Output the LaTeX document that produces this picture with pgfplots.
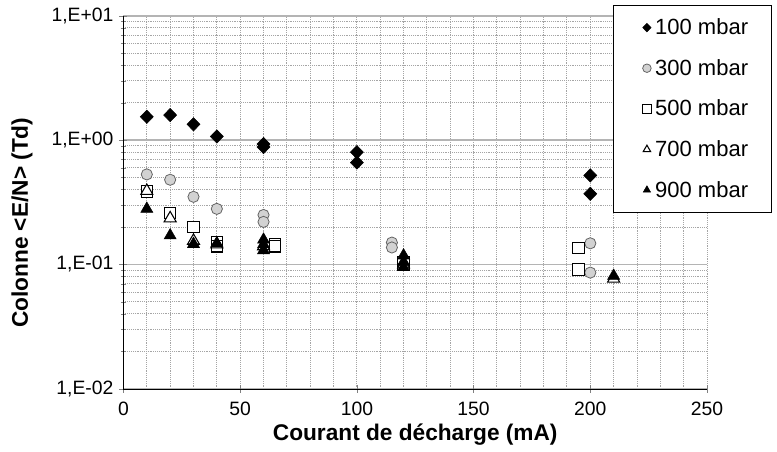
\documentclass[border=0pt]{standalone}
\usepackage{fontspec}
\setmainfont{Liberation Sans}
\usepackage{pgfplots}
\pgfplotsset{compat=1.18}

\definecolor{gridmaj}{RGB}{180,180,180}
\definecolor{gridmin}{RGB}{165,165,165}
\definecolor{circfill}{RGB}{210,210,210}
\definecolor{circdraw}{RGB}{100,100,100}

\begin{document}
\begin{tikzpicture}
\path[use as bounding box] (-92.6pt,-47.25pt) rectangle (490.1pt,291.6pt);
\begin{axis}[
    ,scale only axis
    ,width           = 437.6pt
    ,height          = 279.8pt
    ,ymode           = log
    ,xmin = 0, xmax = 250
    ,ymin = 0.01, ymax = 10
    ,xtick           = {0,50,...,250}
    ,minor x tick num = 4
    ,ytick           = {0.01,0.1,1,10}
    ,yticklabels     = {{1,E-02},{1,E-01},{1,E+00},{1,E+01}}
    ,axis x line*    = bottom
    ,axis y line*    = left
    ,hide obscured x ticks = false
    ,hide obscured y ticks = false
    ,tick align      = center
    ,major tick length = 6pt
    ,minor tick length = 4pt
    ,minor x tick style = {draw=none}
    ,grid            = both
    ,major x grid style = {gridmin, densely dotted, line width=0.7pt}
    ,minor x grid style = {gridmin, densely dotted, line width=0.7pt}
    ,major y grid style = {gridmaj, line width=1.2pt}
    ,minor y grid style = {gridmin, densely dotted, line width=0.7pt}
    ,/pgf/number format/assume math mode=true
    ,tick label style = {font=\fontsize{14.5}{16}\selectfont}
    ,xticklabel style = {yshift=-3pt}
    ,yticklabel style = {xshift=-1pt}
    ,xlabel          = {Courant de décharge (mA)}
    ,ylabel          = {Colonne <E/N> (Td)}
    ,every axis x label/.style = {at={(rel axis cs:0.5,0)}, anchor=center, yshift=-34.5pt, font=\fontsize{17}{19}\selectfont\bfseries}
    ,every axis y label/.style = {at={(rel axis cs:0,0.445)}, xshift=-76pt, rotate=90, anchor=center, font=\fontsize{17}{19}\selectfont\bfseries}
    ,legend style    = {at={(rel axis cs:0.839,1.0287)}, anchor=north west, draw=black, fill=white,
                        font=\fontsize{16.5}{18}\selectfont, row sep=13pt, inner xsep=15pt, inner ysep=8pt}
    ,legend cell align = left
    ,legend image code/.code = {\path (0pt,0pt) (14pt,0pt); \draw[#1, mark size=3.2pt] plot coordinates {(10pt,0pt)};}
    ]
    \addplot [only marks, mark=diamond*, mark size=5pt, mark options={fill=black, draw=black, xscale=1.3}]
        coordinates {(10,1.54) (20,1.59) (30,1.34) (40,1.07) (60,0.93) (60,0.88) (100,0.80) (100,0.66) (200,0.52) (200,0.37)};
    \addlegendentry{100 mbar}
    \addplot [only marks, mark=*, mark size=4.2pt, mark options={fill=circfill, draw=circdraw, line width=0.6pt}]
        coordinates {(10,0.53) (20,0.48) (30,0.35) (40,0.28) (60,0.25) (60,0.22) (115,0.15) (115,0.137) (200,0.148) (200,0.086)};
    \addlegendentry{300 mbar}
    \addplot [only marks, mark=square*, mark size=4.3pt, mark options={fill=white, draw=black, line width=0.8pt}]
        coordinates {(10,0.385) (20,0.26) (30,0.2) (40,0.152) (40,0.14) (65,0.145) (65,0.14) (120,0.105) (120,0.1) (195,0.136) (195,0.091)};
    \addlegendentry{500 mbar}
    \addplot [only marks, mark=triangle*, mark size=5.2pt, mark options={fill=white, draw=black, line width=0.8pt}]
        coordinates {(10,0.39) (20,0.235) (30,0.155) (40,0.145) (60,0.14) (120,0.1) (210,0.077)};
    \addlegendentry{700 mbar}
    \addplot [only marks, mark=triangle*, mark size=5.2pt, mark options={fill=black, draw=black}]
        coordinates {(10,0.28) (20,0.171) (30,0.146) (40,0.148) (60,0.158) (60,0.145) (60,0.13) (120,0.118) (120,0.105) (120,0.095) (210,0.081)};
    \addlegendentry{900 mbar}
\end{axis}
\end{tikzpicture}
\end{document}
